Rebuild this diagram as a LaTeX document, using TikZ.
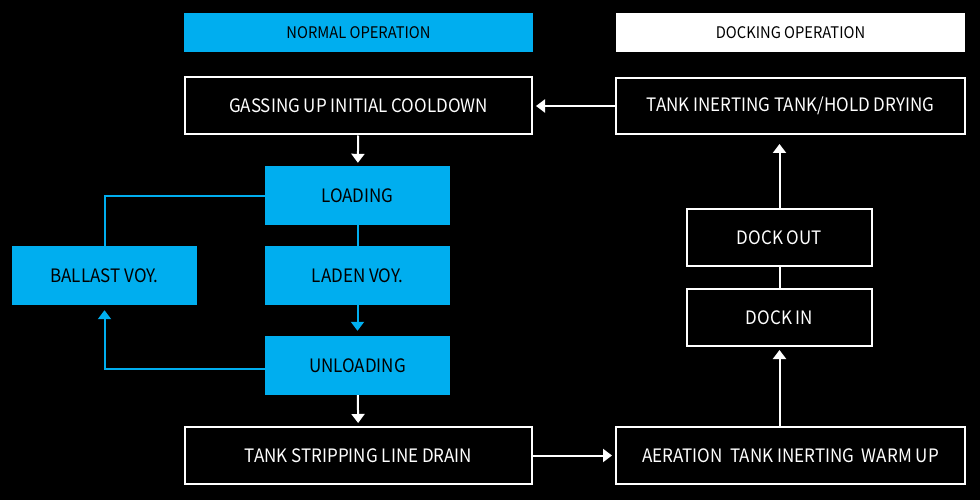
\documentclass[tikz,border=0pt]{standalone}
\usepackage{fontspec}
\setmainfont{Noto Sans CJK SC}
\newfontfamily\stagefont[FakeStretch=0.92]{Noto Sans CJK SC}
\usetikzlibrary{arrows.meta, positioning}
\definecolor{opcyan}{HTML}{00AEEF}

\tikzset{
  stage/.style={draw=white, line width=2pt, text=white, minimum width=#1, minimum height=57pt,
    inner sep=0pt, font=\stagefont\fontsize{18.5}{20}\selectfont},
  stage/.default=347pt,
  cyanstage/.style={fill=opcyan, text=black, minimum width=185pt, minimum height=59pt,
    inner sep=0pt, font=\stagefont\fontsize{18.5}{20}\selectfont},
  header/.style={fill=#1, text=black, minimum width=349pt, minimum height=39pt,
    inner sep=0pt, font=\stagefont\fontsize{16}{18}\selectfont},
  flow/.style={draw=white, line width=2pt, -{Triangle[width=13pt,length=9pt]}, shorten >=3pt},
  cyanflow/.style={draw=opcyan, line width=2pt},
}

\begin{document}
\begin{tikzpicture}[x=1pt, y=-1pt]
        \fill[black] (0,0) rectangle (980,500);
        \useasboundingbox (0,0) rectangle (980,500);
        % Headers
        \node[header=opcyan] (normal) at (358.5,32.5) {NORMAL OPERATION};
        \node[header=white] (docking) at (790.5,32.5) {DOCKING OPERATION};
        % Normal operation
        \node[stage] (gassing) at (358.5,106) {GASSING UP INITIAL COOLDOWN};
        \node[cyanstage] (loading) at (357.5,195.5) {LOADING};
        \node[cyanstage] (laden) at (357.5,275.5) {LADEN VOY.};
        \node[cyanstage] (ballast) at (104.5,275.5) {BALLAST VOY.};
        \node[cyanstage] (unloading) at (357.5,365.5) {UNLOADING};
        \node[stage] (stripping) at (358.5,455.5) {TANK STRIPPING LINE DRAIN};
        % Docking operation
        \node[stage=349pt] (aeration) at (790.5,455.5) {AERATION\ \ TANK INERTING\ \ WARM UP};
        \node[stage=185pt] (dockin) at (779.5,317.5) {DOCK IN};
        \node[stage=185pt] (dockout) at (779.5,237.5) {DOCK OUT};
        \node[stage=349pt, minimum height=56pt] (inerting) at (790.5,106) {TANK INERTING TANK/HOLD DRYING};
        % Connectors
        \draw[flow] (gassing) -- (loading);
        \draw[cyanflow] (loading) -- (laden);
        \draw[cyanflow, -{Triangle[width=13pt,length=9pt]}, shorten >=5pt] (laden) -- (unloading);
        \draw[cyanflow] (loading.west) -| (ballast.north);
        \draw[cyanflow, -{Triangle[width=13pt,length=9pt]}, shorten >=5pt] ([yshift=-3.5pt]unloading.west) -| (ballast.south);
        \draw[flow] (unloading) -- (stripping);
        \draw[flow] (stripping) -- (aeration);
        \draw[flow] (aeration.north -| dockin) -- (dockin);
        \draw[white, line width=2pt] (dockin) -- (dockout);
        \draw[flow, shorten >=9pt] (dockout) -- (dockout |- inerting.south);
        \draw[flow] (inerting) -- (gassing);
\end{tikzpicture}
\end{document}
